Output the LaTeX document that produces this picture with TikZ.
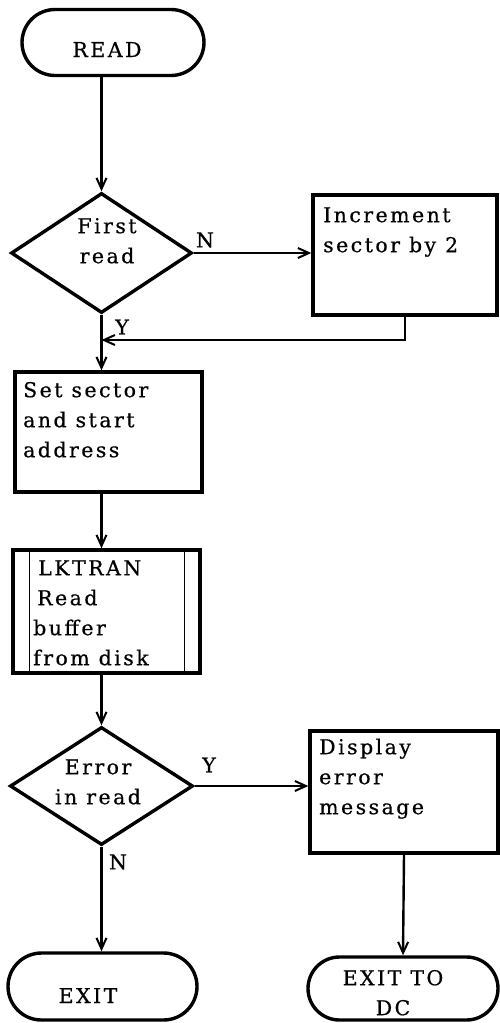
\documentclass[tikz,border=0pt]{standalone}
\usepackage{fontspec}
\setmainfont{DejaVu Serif}[LetterSpace=12.0,FakeBold=0.6]
\usetikzlibrary{arrows.meta,shapes.geometric,shapes.misc}
\begin{document}
\begin{tikzpicture}[x=1pt,y=-1pt,
  box/.style={draw, line width=3.4pt, inner sep=0pt},
  term/.style={draw, rounded rectangle, line width=3.4pt, inner sep=0pt},
  dec/.style={draw, diamond, line width=3.4pt, inner sep=0pt},
  txt/.style={inner sep=0pt, align=left, font=\fontsize{20.5}{30}\selectfont},
  lbl/.style={inner sep=0pt, font=\fontsize{20.5}{30}\selectfont},
  flow/.style={line width=2.4pt, -{Straight Barb[length=11pt,width=10pt,line width=2pt]}},
]
\useasboundingbox (0,0) rectangle (500,1023);

\node[term, minimum width=182pt, minimum height=66pt] (read) at (113,42.5) {};
\node[dec, minimum width=181pt, minimum height=120pt] (d1) at (101.5,253) {};
\node[box, minimum width=184pt, minimum height=120pt] (inc) at (405,255) {};
\node[box, minimum width=187pt, minimum height=120pt] (set) at (108.5,432) {};
\node[box, minimum width=187pt, minimum height=123pt] (lk) at (106.5,611.5) {};
\node[dec, minimum width=183pt, minimum height=118pt] (d2) at (101.5,786) {};
\node[box, minimum width=188pt, minimum height=122pt] (disp) at (404,792) {};
\node[term, minimum width=189pt, minimum height=67pt] (exit) at (102.5,986.5) {};
\node[term, minimum width=190pt, minimum height=63pt] (exitdc) at (403,988.5) {};

\draw[line width=1.5pt] ([xshift=18pt]lk.north west) -- ([xshift=18pt]lk.south west);
\draw[line width=1.5pt] ([xshift=-17pt]lk.north east) -- ([xshift=-17pt]lk.south east);

\coordinate (join) at (101.5,340);
\draw[flow] (read.south -| d1.north) -- (d1.north);
\draw[flow] (d1.east) -- (d1.east -| inc.west);
\draw[flow] (inc.south) |- (join);
\draw[flow] (d1.south) -- (d1.south |- set.north);
\draw[flow] (set.south -| d1.south) -- (d1.south |- lk.north);
\draw[flow] (lk.south -| d2.north) -- (d2.north);
\draw[flow] (d2.east) -- (d2.east -| disp.west);
\draw[flow] (d2.south) -- (d2.south |- exit.north);
\draw[flow] (disp.south) -- (exitdc.north);

\node[txt, anchor=base] (tread) at (107,57) {READ};
\node[txt, anchor=north west] (tinc) at (323,201) {\strut Increment\\sector by 2};
\node[txt, anchor=north west] (tset) at (23,376) {\strut Set sector\\and start\\address};
\node[txt, anchor=north west] (tlk) at (33,554) {\strut\hspace*{5pt}LKTRAN\\\hspace*{4pt}Read\\buffer\\from disk};
\node[txt, anchor=north west] (tdisp) at (319,733) {\strut Display\\error\\message};
\node[txt, align=center, anchor=north] (td1) at (107,212) {\strut First\\read};
\node[txt, align=center, anchor=north] (td2) at (98,753) {\strut Error\\in read};
\node[txt, anchor=base] (texit) at (88,1003) {EXIT};
\node[txt, align=center, anchor=north] (tdc) at (393,964) {\strut EXIT TO\\DC};

\node[lbl] (ln1) at (205,240) {N};
\node[lbl] (ly1) at (122,327) {Y};
\node[lbl] (ly2) at (209,765) {Y};
\node[lbl] (ln2) at (118,862) {N};
\end{tikzpicture}
\end{document}
